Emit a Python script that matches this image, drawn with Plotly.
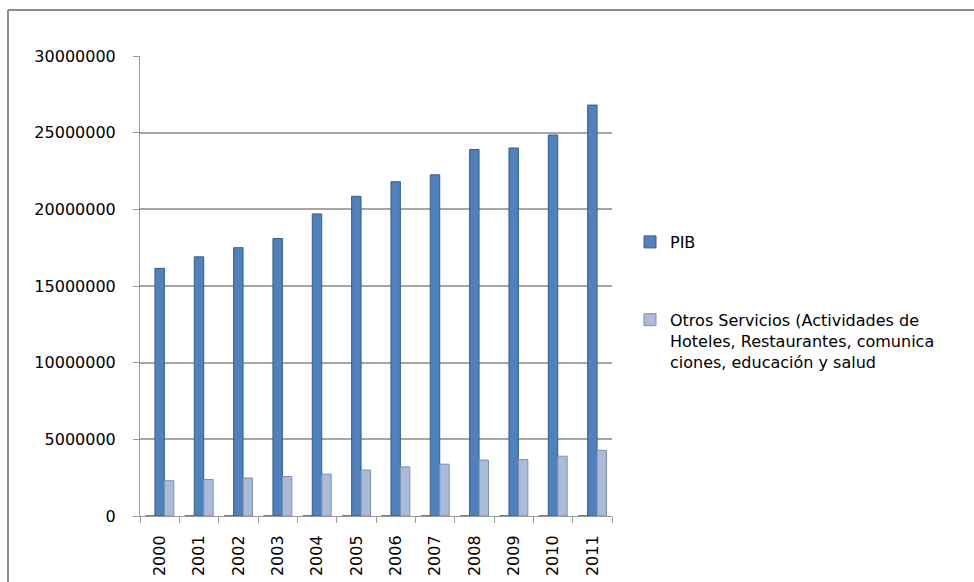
import plotly.graph_objects as go

years = ["2000", "2001", "2002", "2003", "2004", "2005", "2006", "2007", "2008", "2009", "2010", "2011"]
anio = [2000, 2001, 2002, 2003, 2004, 2005, 2006, 2007, 2008, 2009, 2010, 2011]
pib = [16150000, 16900000, 17500000, 18100000, 19700000, 20850000, 21800000, 22250000, 23900000, 24000000, 24850000, 26800000]
otros = [2300000, 2380000, 2480000, 2580000, 2730000, 3000000, 3200000, 3380000, 3650000, 3680000, 3900000, 4280000]
y_ticks = [0, 5000000, 10000000, 15000000, 20000000, 25000000, 30000000]

FONT = "DejaVu Sans"

fig = go.Figure()
fig.add_trace(go.Bar(x=years, y=anio, name="Año", showlegend=False,
                     marker=dict(color="#2f5a8f", line=dict(color="#2f5a8f", width=1))))
fig.add_trace(go.Bar(x=years, y=pib, name="PIB", legendgroup="a",
                     marker=dict(color="#4f81bd", line=dict(color="#385d8a", width=1))))
fig.add_trace(go.Bar(x=years, y=otros, legendgroup="b",
                     name="Otros Servicios (Actividades de<br>Hoteles, Restaurantes, comunica<br>ciones, educación y salud",
                     marker=dict(color="#aabad9", line=dict(color="#7f8fae", width=1))))

L, R, T, B = 140, 362, 56, 66
W, H = 974, 582
pw, ph = W - L - R, H - T - B
def px(x):
    return (x - L) / pw
def py(y):
    return (H - B - y) / ph

fig.update_layout(
    width=W, height=H,
    margin=dict(l=L, r=R, t=T, b=B, autoexpand=False),
    paper_bgcolor="white", plot_bgcolor="white",
    barmode="group", bargap=0.28, bargroupgap=0,
    font=dict(family=FONT, size=16, color="#000000"),
    showlegend=True,
    legend=dict(x=px(630), xanchor="left", y=py(225), yanchor="top",
                font=dict(family=FONT, size=16, color="#000000"),
                tracegroupgap=54, traceorder="grouped", valign="top",
                bgcolor="rgba(0,0,0,0)"),
    xaxis=dict(type="category", showgrid=False, showline=True, linecolor="#9a9a9a", linewidth=1,
               ticks="outside", ticklen=6, tickcolor="#9a9a9a", tickson="boundaries",
               tickangle=-90, ticklabelstandoff=12, automargin=False,
               tickfont=dict(family=FONT, size=16, color="#000000")),
    yaxis=dict(range=[0, 30000000], tickvals=y_ticks, tickformat="d",
               showgrid=True, gridcolor="#a6a6a6", gridwidth=1.5,
               showline=True, linecolor="#9a9a9a", linewidth=1,
               ticks="outside", ticklen=6, tickcolor="#9a9a9a", ticklabelstandoff=14,
               zeroline=False, automargin=False,
               tickfont=dict(family=FONT, size=16, color="#000000")),
    shapes=[
        dict(type="line", xref="paper", yref="paper", x0=px(8), x1=px(8), y0=py(10), y1=py(600),
             line=dict(color="#8c8c8c", width=2)),
        dict(type="line", xref="paper", yref="paper", x0=px(8), x1=px(980), y0=py(10), y1=py(10),
             line=dict(color="#8c8c8c", width=2)),
    ],
)

fig.write_html("out.html")
